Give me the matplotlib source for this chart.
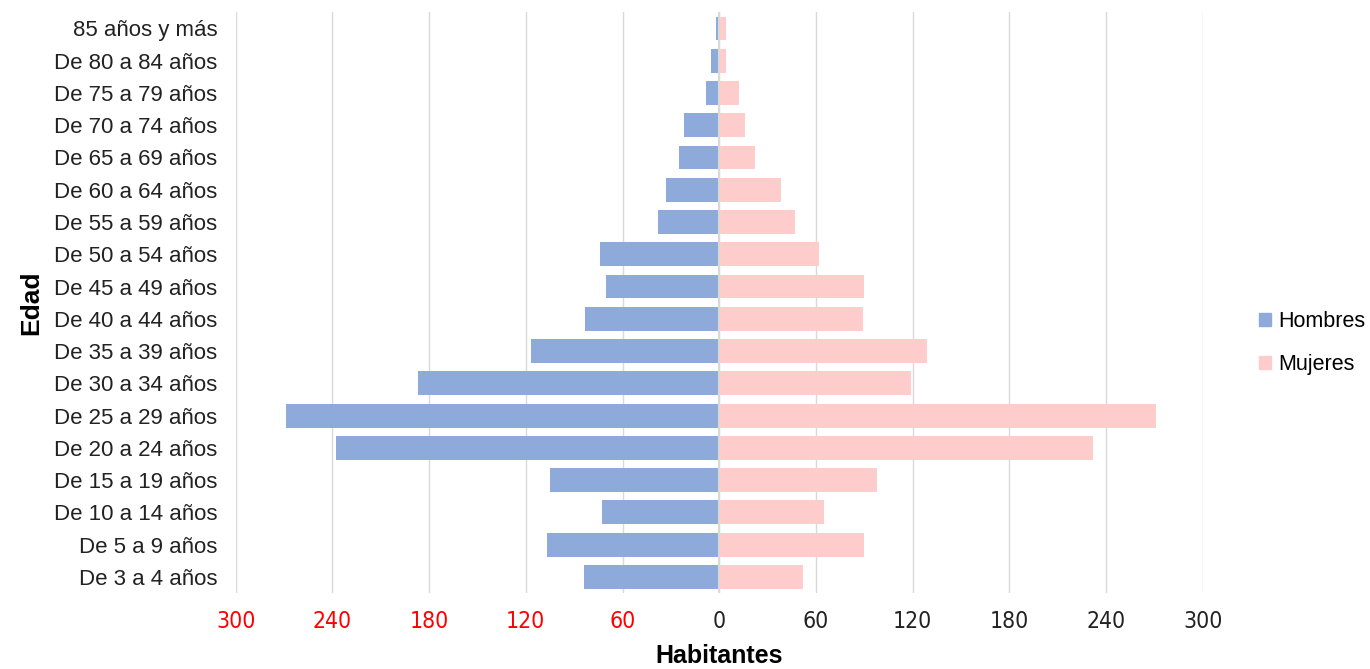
import matplotlib.pyplot as plt
from matplotlib import font_manager
from matplotlib.patches import Patch

edades = [
    "De 3 a 4 años", "De 5 a 9 años", "De 10 a 14 años", "De 15 a 19 años",
    "De 20 a 24 años", "De 25 a 29 años", "De 30 a 34 años", "De 35 a 39 años",
    "De 40 a 44 años", "De 45 a 49 años", "De 50 a 54 años", "De 55 a 59 años",
    "De 60 a 64 años", "De 65 a 69 años", "De 70 a 74 años", "De 75 a 79 años",
    "De 80 a 84 años", "85 años y más",
]
hombres = [84, 107, 73, 105, 238, 269, 187, 117, 83, 70, 74, 38, 33, 25, 22, 8, 5, 2]
mujeres = [52, 90, 65, 98, 232, 271, 119, 129, 89, 90, 62, 47, 38, 22, 16, 12, 4, 4]
ticks = [-300, -240, -180, -120, -60, 0, 60, 120, 180, 240, 300]

names = {f.name for f in font_manager.fontManager.ttflist}
if "Liberation Sans Narrow" in names:
    narrow = dict(fontfamily="Liberation Sans Narrow")
else:
    narrow = dict(fontfamily="DejaVu Sans", fontstretch="condensed")
plt.rcParams["font.family"] = ["Liberation Sans", "DejaVu Sans"]

azul = "#8eaadb"
rosa = "#ffcccc"

fig = plt.figure(figsize=(13.7, 6.69), dpi=100)
ax = fig.add_axes([0.172, 0.1136, 0.706, 0.868])

y = range(len(edades))
ax.barh(y, [-h for h in hombres], height=0.74, color=azul, label="Hombres", zorder=2)
ax.barh(y, mujeres, height=0.74, color=rosa, label="Mujeres", zorder=2)

ax.set_xlim(-300, 300)
ax.set_ylim(-0.5, len(edades) - 0.5)
ax.set_xticks(ticks)
ax.set_xticklabels([str(abs(t)) for t in ticks], fontsize=16.5, **narrow)
for lab, t in zip(ax.get_xticklabels(), ticks):
    lab.set_color("red" if t < 0 else "#222222")
ax.set_yticks(list(y))
ax.set_yticklabels(edades, fontsize=16, color="#222222")
ax.tick_params(axis="x", length=0, pad=12)
ax.tick_params(axis="y", length=0, pad=13)

ax.grid(axis="x", color="#d9d9d9", linewidth=1, zorder=0)
ax.axvline(0, color="#d9d9d9", linewidth=1.5, zorder=3)
for s in ax.spines.values():
    s.set_visible(False)

ax.set_xlabel("Habitantes", fontsize=18, fontweight="bold", labelpad=8)
ax.set_ylabel("Edad", fontsize=19, fontweight="bold", labelpad=8)

handles = [Patch(color=azul, label="Hombres"), Patch(color=rosa, label="Mujeres")]
fig.legend(handles=handles, loc="center left", bbox_to_anchor=(0.905, 0.487),
           frameon=False, fontsize=15.5, handlelength=0.55, handleheight=0.55,
           handletextpad=0.35, labelspacing=1.0)

fig.savefig("out.png", dpi=100)
